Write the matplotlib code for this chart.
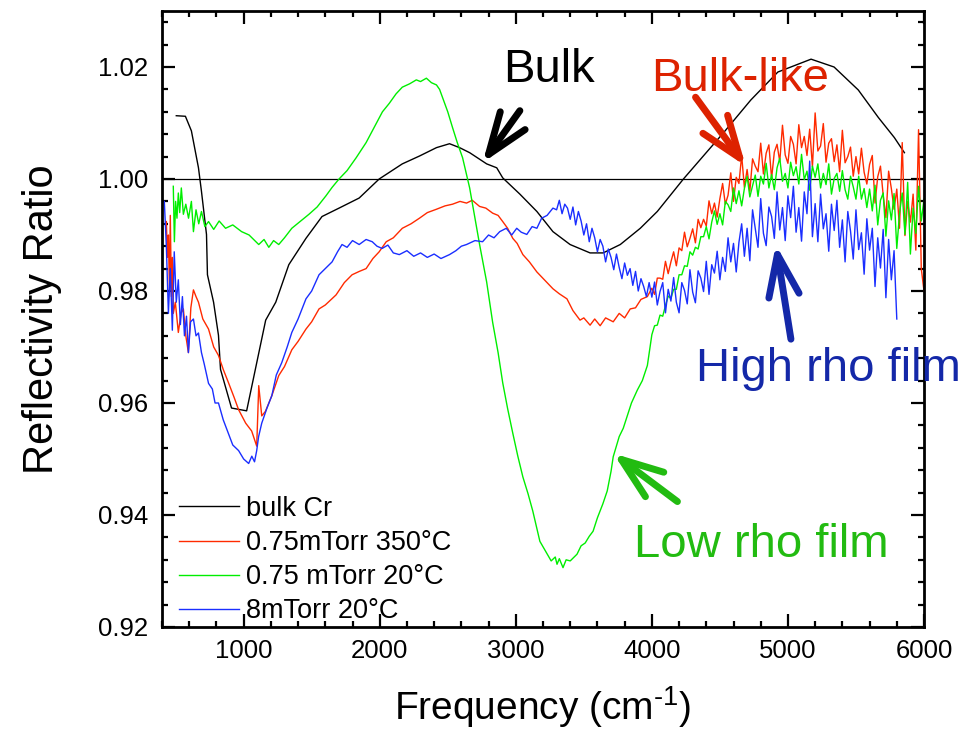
import matplotlib
matplotlib.use("Agg")
import matplotlib.pyplot as plt
from matplotlib.ticker import MultipleLocator, FormatStrFormatter

plt.rcParams['font.family'] = ['Liberation Sans', 'DejaVu Sans']

# ---------------- data ----------------
bulk_x = [505, 572, 616, 668, 690, 727, 734, 779, 815, 830, 911, 1022, 1162, 1236, 1332,
          1458, 1576, 1701, 1849, 1996, 2166, 2292, 2417, 2513, 2587, 2661, 2786, 2860,
          2904, 3030, 3155, 3273, 3399, 3546, 3642, 3768, 3915, 4040, 4232, 4410, 4528,
          4727, 4926, 5170, 5339, 5517, 5664, 5782, 5856]
bulk_y = [1.0113, 1.0112, 1.0086, 1.0020, 0.9978, 0.9901, 0.9829, 0.9780, 0.9721, 0.9660,
          0.9591, 0.9586, 0.9748, 0.9780, 0.9847, 0.9894, 0.9933, 0.9948, 0.9966, 1.0000,
          1.0027, 1.0041, 1.0056, 1.0063, 1.0056, 1.0047, 1.0027, 1.0020, 1.0002, 0.9973,
          0.9942, 0.9906, 0.9883, 0.9868, 0.9868, 0.9883, 0.9912, 0.9942, 1.0000, 1.0050,
          1.0083, 1.0141, 1.0191, 1.0214, 1.0200, 1.0159, 1.0110, 1.0074, 1.0047]

# 0.75 mTorr 350 C (red)
red_x_low = [432, 440, 447, 455, 461, 469, 476, 483, 498, 520, 540, 557, 575, 594, 612, 631,
             650, 668, 700, 742, 780, 815, 850, 889, 930, 963, 1015, 1059, 1096, 1111,
             1133, 1160, 1207, 1258, 1300, 1354, 1400, 1458, 1500, 1554, 1600, 1679, 1740,
             1797, 1850, 1900, 1950, 1996, 2048, 2100, 2166, 2230, 2292, 2350, 2417, 2480,
             2535, 2590, 2638, 2680, 2734, 2780, 2830, 2870, 2904, 2940, 2978, 3010, 3052,
             3100, 3155, 3210, 3273, 3320, 3376, 3420, 3472, 3500, 3546, 3580, 3620, 3660,
             3716, 3760, 3800, 3841, 3880, 3920, 3967]
red_y_low = [0.9924, 0.9860, 0.9900, 0.9800, 0.9935, 0.9790, 0.9860, 0.9760, 0.9780, 0.9726,
             0.9760, 0.9768, 0.9720, 0.9690, 0.9770, 0.9802, 0.9790, 0.9780, 0.9750, 0.9732,
             0.9700, 0.9685, 0.9660, 0.9636, 0.9610, 0.9588, 0.9564, 0.9550, 0.9523, 0.9631,
             0.9577, 0.9585, 0.9613, 0.9649, 0.9665, 0.9695, 0.9710, 0.9732, 0.9745, 0.9768,
             0.9775, 0.9793, 0.9815, 0.9829, 0.9835, 0.9840, 0.9858, 0.9870, 0.9888, 0.9895,
             0.9912, 0.9920, 0.9930, 0.9940, 0.9946, 0.9952, 0.9955, 0.9960, 0.9957, 0.9962,
             0.9951, 0.9948, 0.9939, 0.9935, 0.9924, 0.9912, 0.9894, 0.9885, 0.9865, 0.9852,
             0.9834, 0.9820, 0.9804, 0.9795, 0.9786, 0.9765, 0.9748, 0.9752, 0.9739, 0.9750,
             0.9738, 0.9752, 0.9745, 0.9760, 0.9752, 0.9768, 0.9770, 0.9785, 0.9790]
red_x_high = list(range(4000, 6001, 20))
red_y_high = [0.9805, 0.9794, 0.9823, 0.9823, 0.9821, 0.9853, 0.9831, 0.9852, 0.9870, 0.9845,
              0.9877, 0.9872, 0.9905, 0.9879, 0.9894, 0.9911, 0.9886, 0.9928, 0.9913, 0.9928,
              0.9916, 0.9961, 0.9938, 0.9957, 0.9932, 0.9965, 0.9992, 0.9955, 0.9971, 1.0011,
              0.9960, 1.0003, 0.9992, 1.0042, 0.9985, 1.0017, 0.9978, 1.0036, 1.0023, 1.0013,
              1.0064, 1.0009, 1.0046, 1.0061, 1.0001, 1.0048, 1.0062, 1.0031, 1.0096, 1.0043,
              1.0028, 1.0076, 1.0062, 1.0027, 1.0097, 1.0056, 1.0076, 1.0042, 1.0089, 1.0022,
              1.0118, 1.0050, 1.0059, 1.0099, 1.0030, 1.0064, 1.0072, 1.0031, 1.0061, 1.0013,
              1.0087, 1.0029, 1.0040, 1.0057, 1.0005, 1.0040, 1.0009, 1.0055, 1.0012, 0.9991,
              1.0026, 1.0042, 0.9957, 1.0004, 1.0023, 0.9971, 0.9931, 1.0014, 0.9983, 0.9946,
              0.9982, 0.9912, 1.0065, 0.9899, 0.9960, 0.9923, 0.9973, 0.9873, 1.0088, 0.9840,
              0.9800]

# 0.75 mTorr 20 C (green)
green_x_low = [483, 491, 500, 510, 520, 530, 542, 557, 575, 595, 616, 631, 650, 670, 690, 715,
               742, 780, 820, 867, 920, 985, 1040, 1111, 1150, 1185, 1220, 1258, 1300, 1354,
               1420, 1480, 1540, 1605, 1650, 1701, 1760, 1827, 1900, 1974, 2020, 2070, 2120,
               2166, 2220, 2269, 2300, 2343, 2380, 2417, 2440, 2461, 2500, 2535, 2570, 2609,
               2661, 2700, 2734, 2786, 2830, 2870, 2904, 2940, 2978, 3015, 3052, 3090, 3125,
               3177, 3220, 3260, 3290, 3303, 3320, 3347, 3370, 3400, 3450, 3480, 3510, 3540,
               3568, 3600, 3640, 3672, 3700, 3716, 3760, 3790, 3819, 3850, 3893, 3930, 3967]
green_y_low = [0.9987, 0.9888, 0.9960, 0.9930, 0.9975, 0.9940, 0.9984, 0.9937, 0.9955, 0.9930,
               0.9960, 0.9906, 0.9945, 0.9920, 0.9942, 0.9915, 0.9924, 0.9910, 0.9925, 0.9912,
               0.9918, 0.9906, 0.9900, 0.9883, 0.9892, 0.9878, 0.9890, 0.9883, 0.9895, 0.9912,
               0.9925, 0.9937, 0.9950, 0.9970, 0.9985, 1.0000, 1.0015, 1.0038, 1.0065, 1.0099,
               1.0120, 1.0135, 1.0152, 1.0164, 1.0170, 1.0177, 1.0174, 1.0180, 1.0172, 1.0168,
               1.0160, 1.0146, 1.0120, 1.0092, 1.0065, 1.0038, 0.9984, 0.9930, 0.9883, 0.9816,
               0.9744, 0.9690, 0.9636, 0.9590, 0.9546, 0.9505, 0.9468, 0.9438, 0.9407, 0.9353,
               0.9335, 0.9318, 0.9325, 0.9312, 0.9322, 0.9306, 0.9320, 0.9318, 0.9330, 0.9345,
               0.9350, 0.9362, 0.9371, 0.9395, 0.9420, 0.9443, 0.9478, 0.9504, 0.9540, 0.9555,
               0.9577, 0.9600, 0.9623, 0.9640, 0.9667]
green_x_high = list(range(4000, 6001, 20))
green_y_high = [0.9722, 0.9738, 0.9739, 0.9757, 0.9755, 0.9774, 0.9791, 0.9787, 0.9803, 0.9803,
                0.9829, 0.9829, 0.9845, 0.9844, 0.9870, 0.9864, 0.9878, 0.9875, 0.9897, 0.9897,
                0.9915, 0.9893, 0.9923, 0.9943, 0.9919, 0.9938, 0.9918, 0.9960, 0.9954, 0.9942,
                0.9984, 0.9956, 0.9979, 0.9952, 0.9983, 1.0005, 0.9968, 0.9988, 1.0007, 0.9969,
                1.0005, 0.9991, 1.0028, 0.9984, 1.0008, 0.9981, 1.0020, 1.0037, 0.9996, 1.0010,
                0.9984, 1.0030, 1.0006, 1.0022, 0.9991, 1.0044, 0.9999, 1.0014, 0.9980, 1.0023,
                1.0003, 1.0027, 0.9984, 1.0010, 0.9990, 1.0027, 0.9973, 1.0001, 1.0010, 0.9978,
                1.0015, 0.9981, 0.9964, 1.0005, 0.9986, 0.9964, 1.0005, 0.9964, 0.9983, 0.9949,
                0.9982, 0.9943, 0.9989, 0.9918, 0.9962, 0.9975, 0.9898, 0.9961, 0.9927, 0.9974,
                0.9876, 0.9938, 0.9975, 0.9901, 0.9994, 0.9866, 0.9948, 0.9903, 0.9987, 0.9925,
                0.9964]

# 8 mTorr 20 C (blue)
blue_x_low = [417, 432, 447, 461, 476, 490, 505, 520, 535, 550, 565, 580, 594, 610, 631, 650,
              668, 690, 710, 742, 770, 790, 815, 850, 889, 920, 963, 1000, 1037, 1060, 1080,
              1096, 1110, 1133, 1170, 1207, 1240, 1280, 1320, 1354, 1400, 1458, 1500, 1554,
              1600, 1650, 1690, 1723, 1760, 1800, 1849, 1900, 1945, 1980, 2018, 2060, 2100,
              2144, 2200, 2250, 2300, 2350, 2400, 2450, 2513, 2560, 2600, 2638, 2700, 2756,
              2800, 2840, 2882, 2930, 2970, 3007, 3040, 3081, 3120, 3155, 3190, 3230, 3273,
              3300, 3320, 3340, 3360, 3380, 3400, 3420, 3440, 3460, 3480, 3500, 3520, 3540,
              3560, 3580, 3600, 3620, 3640, 3660, 3680, 3700, 3720, 3740, 3760, 3780, 3800,
              3820, 3840, 3860, 3880, 3900, 3920, 3940, 3960, 3980]
blue_y_low = [0.9960, 0.9880, 0.9760, 0.9840, 0.9730, 0.9870, 0.9780, 0.9820, 0.9740, 0.9790,
              0.9720, 0.9755, 0.9690, 0.9745, 0.9750, 0.9720, 0.9725, 0.9690, 0.9670, 0.9635,
              0.9625, 0.9600, 0.9600, 0.9570, 0.9545, 0.9525, 0.9515, 0.9500, 0.9492, 0.9505,
              0.9495, 0.9515, 0.9540, 0.9564, 0.9590, 0.9613, 0.9650, 0.9672, 0.9700, 0.9726,
              0.9750, 0.9786, 0.9800, 0.9829, 0.9840, 0.9852, 0.9870, 0.9883, 0.9878, 0.9890,
              0.9883, 0.9892, 0.9888, 0.9880, 0.9876, 0.9882, 0.9868, 0.9865, 0.9872, 0.9862,
              0.9868, 0.9860, 0.9866, 0.9858, 0.9865, 0.9872, 0.9880, 0.9883, 0.9890, 0.9888,
              0.9900, 0.9895, 0.9906, 0.9912, 0.9900, 0.9912, 0.9905, 0.9901, 0.9915, 0.9912,
              0.9930, 0.9935, 0.9948, 0.9945,
              0.9962, 0.9938, 0.9955, 0.9948, 0.9928, 0.9950, 0.9918, 0.9942, 0.9925, 0.9900,
              0.9920, 0.9888, 0.9912, 0.9895, 0.9870, 0.9892, 0.9880, 0.9852, 0.9875, 0.9860,
              0.9838, 0.9866, 0.9842, 0.9822, 0.9850, 0.9828, 0.9840, 0.9810, 0.9835, 0.9800,
              0.9822, 0.9808, 0.9790, 0.9815]
blue_x_high = list(range(4000, 5801, 20))
blue_y_high = [0.9789, 0.9816, 0.9775, 0.9799, 0.9815, 0.9761, 0.9803, 0.9782, 0.9824, 0.9780,
               0.9761, 0.9815, 0.9801, 0.9777, 0.9838, 0.9798, 0.9779, 0.9836, 0.9823, 0.9799,
               0.9853, 0.9794, 0.9847, 0.9832, 0.9871, 0.9820, 0.9860, 0.9835, 0.9895, 0.9852,
               0.9885, 0.9834, 0.9887, 0.9920, 0.9862, 0.9912, 0.9854, 0.9945, 0.9912, 0.9878,
               0.9965, 0.9903, 0.9881, 0.9950, 0.9933, 0.9894, 0.9977, 0.9909, 0.9949, 0.9890,
               0.9970, 0.9931, 0.9987, 0.9905, 0.9949, 0.9889, 0.9977, 0.9938, 1.0032, 0.9897,
               0.9956, 0.9888, 0.9973, 0.9911, 0.9938, 0.9871, 0.9955, 0.9908, 0.9962, 0.9878,
               0.9927, 0.9852, 0.9942, 0.9907, 0.9857, 0.9945, 0.9874, 0.9904, 0.9830, 0.9929,
               0.9873, 0.9912, 0.9808, 0.9895, 0.9841, 0.9910, 0.9788, 0.9892, 0.9820, 0.9872,
               0.9750]

bulk_label = "bulk Cr"
red_label = "0.75mTorr 350\u00b0C"
green_label = "0.75 mTorr 20\u00b0C"
blue_label = "8mTorr 20\u00b0C"

x_ticks = [1000, 2000, 3000, 4000, 5000, 6000]
y_ticks = [0.92, 0.94, 0.96, 0.98, 1.00, 1.02]

# ---------------- figure ----------------
fig = plt.figure(figsize=(9.77, 7.30), dpi=100)
ax = fig.add_axes([162/977, 1 - 627/730, (924-162)/977, (627-11)/730])

ax.plot(bulk_x, bulk_y, color='#000000', lw=1.0, label=bulk_label)
ax.plot(red_x_low + red_x_high, red_y_low + red_y_high, color='#ff2a00', lw=1.0,
        label=red_label)
ax.plot(green_x_low + green_x_high, green_y_low + green_y_high, color='#00ee00', lw=1.0,
        label=green_label)
ax.plot(blue_x_low + blue_x_high, blue_y_low + blue_y_high, color='#1a2eff', lw=1.0,
        label=blue_label)

ax.axhline(1.0, color='black', lw=0.9, zorder=1)

ax.set_xlim(400, 6000)
ax.set_ylim(0.92, 1.03)
ax.set_xticks(x_ticks)
ax.set_yticks(y_ticks)
ax.xaxis.set_minor_locator(MultipleLocator(200))
ax.yaxis.set_minor_locator(MultipleLocator(0.004))
ax.yaxis.set_major_formatter(FormatStrFormatter('%.2f'))

ax.tick_params(which='both', direction='in', top=True, right=True, width=1.6,
               labelsize=18.5)
ax.tick_params(which='major', length=9.5)
ax.tick_params(which='minor', length=4.5)
ax.tick_params(axis='x', which='major', pad=9)
ax.tick_params(axis='y', which='major', pad=10)
for sp in ax.spines.values():
    sp.set_linewidth(2.0)

ax.set_xlabel("Frequency (cm$^{\\mathregular{\u20101}}$)", fontsize=28, labelpad=15)
ax.set_ylabel("Reflectivity Ratio", fontsize=30, labelpad=26)

leg = ax.legend(loc='lower left', bbox_to_anchor=(0.019, 0.0), frameon=False,
                fontsize=19.5, handlelength=2.2, handletextpad=0.25,
                labelspacing=0.30, borderpad=0.1, borderaxespad=0.0)

# ---------------- annotations ----------------
astyle = '->,head_length=1.5,head_width=0.55'

ax.text(3243, 1.0173, "Bulk", color='black', fontsize=34, ha='center', va='baseline')
ax.annotate("", xy=(2756, 1.0029), xytext=(3030, 1.0122),
            arrowprops=dict(arrowstyle=astyle, mutation_scale=20, lw=5, color='black',
                            shrinkA=0, shrinkB=0))

ax.text(4646, 1.0158, "Bulk-like", color='#dd2200', fontsize=34, ha='center', va='baseline')
ax.annotate("", xy=(4690, 1.0023), xytext=(4321, 1.0146),
            arrowprops=dict(arrowstyle=astyle, mutation_scale=20, lw=5, color='#dd2200',
                            shrinkA=0, shrinkB=0))

ax.text(5295, 0.9640, "High rho film", color='#1428a8', fontsize=34, ha='center',
        va='baseline', clip_on=False)
ax.annotate("", xy=(4911, 0.9883), xytext=(5022, 0.9714),
            arrowprops=dict(arrowstyle=astyle, mutation_scale=20, lw=5, color='#1428a8',
                            shrinkA=0, shrinkB=0))

ax.text(4808, 0.9325, "Low rho film", color='#22bb11', fontsize=34, ha='center', va='baseline')
ax.annotate("", xy=(3716, 0.9510), xytext=(4188, 0.9424),
            arrowprops=dict(arrowstyle=astyle, mutation_scale=20, lw=5, color='#22bb11',
                            shrinkA=0, shrinkB=0))

fig.savefig("out.png", dpi=100)
